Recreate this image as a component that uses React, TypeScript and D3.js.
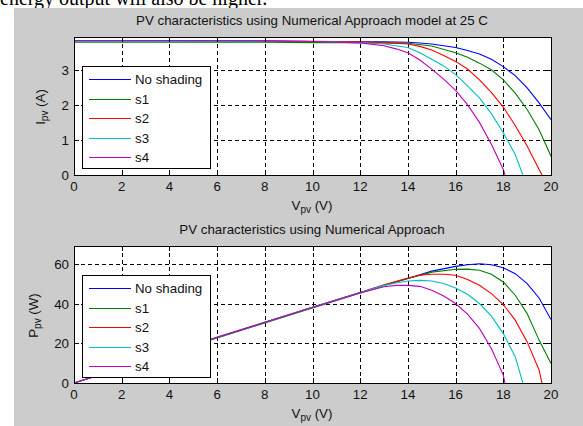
import React from 'react';
import * as d3 from 'd3';

// series shown in both panels
const seriesNames = ['No shading', 's1', 's2', 's3', 's4'];
const seriesColors = ['#0000ff', '#008000', '#ff0000', '#00bfbf', '#bf00bf'];

// I-V curves, [voltage V, current A]
const ivNoShading: [number, number][] = [
  [0, 3.85], [4, 3.85], [8, 3.84], [10, 3.83], [12, 3.82], [13, 3.82], [14, 3.81], [14.5, 3.79],
  [15, 3.76], [16, 3.66], [16.5, 3.57], [17, 3.47], [17.5, 3.32], [18, 3.11], [18.5, 2.85],
  [19, 2.5], [19.5, 2.07], [20, 1.59],
];
const ivS1: [number, number][] = [
  [0, 3.81], [4, 3.81], [8, 3.81], [10, 3.8], [12, 3.8], [13, 3.79], [14, 3.78], [15, 3.7],
  [16, 3.51], [16.5, 3.38], [17, 3.21], [17.5, 3.02], [18, 2.73], [18.5, 2.35], [19, 1.88],
  [19.5, 1.3], [20, 0.54],
];
const ivS2: [number, number][] = [
  [0, 3.86], [4, 3.86], [8, 3.85], [10, 3.84], [12, 3.82], [13, 3.8], [14, 3.76], [14.5, 3.69],
  [15, 3.59], [15.5, 3.43], [16, 3.26], [16.5, 3.04], [17, 2.73], [17.5, 2.37], [18, 1.95],
  [18.5, 1.42], [19, 0.83], [19.5, 0.16], [19.62, 0],
];
const ivS3: [number, number][] = [
  [0, 3.85], [4, 3.85], [8, 3.84], [10, 3.83], [12, 3.8], [13, 3.76], [14, 3.66], [14.5, 3.51],
  [15, 3.32], [15.5, 3.13], [16, 2.88], [16.5, 2.56], [17, 2.21], [17.5, 1.76], [18, 1.21],
  [18.5, 0.59], [18.82, 0],
];
const ivS4: [number, number][] = [
  [0, 3.86], [4, 3.86], [8, 3.85], [10, 3.83], [12, 3.79], [13, 3.71], [13.5, 3.62], [14, 3.51],
  [14.5, 3.3], [15, 3.04], [15.5, 2.75], [16, 2.43], [16.5, 2.02], [17, 1.51], [17.5, 0.88],
  [18, 0.16], [18.07, 0],
];

// P-V curves, [voltage V, power W]
const pvNoShading: [number, number][] = [
  [0, 0], [2, 7.7], [4, 15.4], [6, 23.0], [8, 30.6], [10, 38.3], [12, 45.8], [13, 49.4],
  [14, 52.9], [15, 56.6], [16, 59.0], [16.5, 59.8], [17, 60.3], [17.5, 59.8], [18, 58.3],
  [18.5, 55.3], [19, 50.3], [19.5, 43.0], [20, 32.1],
];
const pvS1: [number, number][] = [
  [0, 0], [2, 7.6], [4, 15.2], [6, 22.8], [8, 30.4], [10, 38.0], [12, 45.6], [13, 49.3],
  [14, 52.9], [15, 56.1], [16, 57.5], [16.5, 57.6], [17, 57.0], [17.5, 55.0], [18, 51.1],
  [18.5, 44.4], [19, 35.1], [19.5, 21.7], [20, 9.9],
];
const pvS2: [number, number][] = [
  [0, 0], [2, 7.7], [4, 15.4], [6, 23.1], [8, 30.7], [10, 38.3], [12, 45.8], [13, 49.7],
  [14, 53.1], [14.5, 54.5], [15, 55.0], [15.5, 55.0], [16, 54.5], [16.5, 52.4], [17, 49.4],
  [17.5, 45.2], [18, 39.7], [18.5, 31.8], [19, 20.8], [19.5, 6.6], [19.62, 0],
];
const pvS3: [number, number][] = [
  [0, 0], [2, 7.7], [4, 15.4], [6, 23.1], [8, 30.7], [10, 38.3], [12, 45.6], [13, 49.4],
  [13.5, 50.6], [14, 51.6], [14.5, 51.9], [15, 51.6], [15.5, 50.3], [16, 48.1], [16.5, 44.9],
  [17, 40.2], [17.5, 33.8], [18, 25.0], [18.5, 13.3], [18.82, 0],
];
const pvS4: [number, number][] = [
  [0, 0], [2, 7.7], [4, 15.4], [6, 23.1], [8, 30.7], [10, 38.2], [12, 45.5], [13, 48.7],
  [13.5, 49.4], [14, 49.4], [14.5, 48.9], [15, 46.9], [15.5, 44.0], [16, 40.2], [16.5, 34.8],
  [17, 27.6], [17.5, 17.5], [18, 4.0], [18.07, 0],
];

const xTicks = [0, 2, 4, 6, 8, 10, 12, 14, 16, 18, 20];
const iTicks = [0, 1, 2, 3];
const pTicks = [0, 20, 40, 60];

const FONT = 'Liberation Sans, Arial, Helvetica, sans-serif';
const W = 583;
const H = 426;

type PanelProps = {
  id: string;
  top: number;
  bottom: number;
  yMax: number;
  yTicks: number[];
  series: [number, number][][];
  title: string;
  yMain: string;
  yUnit: string;
  yLabelX: number;
};

const Panel = ({ id, top, bottom, yMax, yTicks, series, title, yMain, yUnit, yLabelX }: PanelProps) => {
  const left = 74;
  const right = 551;
  const x = d3.scaleLinear().domain([0, 20]).range([left, right]);
  const y = d3.scaleLinear().domain([0, yMax]).range([bottom, top]);
  const line = d3.line<[number, number]>()
    .x(d => x(d[0]))
    .y(d => y(d[1]));
  const snap = (v: number) => Math.round(v) + 0.5;
  const tickLen = 5;

  // legend
  const lgLeft = 82;
  const lgTop = top + 29;
  const rowH = 19.6;

  return (
    <g>
      <defs>
        <clipPath id={id}>
          <rect x={left} y={top} width={right - left} height={bottom - top} />
        </clipPath>
      </defs>
      <rect x={left} y={top} width={right - left} height={bottom - top} fill="#fff" />

      {/* grid */}
      {xTicks.filter(t => t > 0 && t < 20).map(t => (
        <line key={'gx' + t} x1={snap(x(t))} x2={snap(x(t))} y1={top} y2={bottom}
          stroke="#000" strokeWidth={1} strokeDasharray="4,3" />
      ))}
      {yTicks.filter(t => t > 0).map(t => (
        <line key={'gy' + t} x1={left} x2={right} y1={snap(y(t))} y2={snap(y(t))}
          stroke="#000" strokeWidth={1} strokeDasharray="4,3" />
      ))}

      {/* curves */}
      <g clipPath={`url(#${id})`}>
        {series.map((s, i) => (
          <path key={i} d={line(s) || ''} fill="none" stroke={seriesColors[i]} strokeWidth={1.1} />
        ))}
      </g>

      {/* ticks */}
      {xTicks.map(t => (
        <g key={'tx' + t}>
          <line x1={snap(x(t))} x2={snap(x(t))} y1={bottom} y2={bottom - tickLen} stroke="#000" />
          <line x1={snap(x(t))} x2={snap(x(t))} y1={top} y2={top + tickLen} stroke="#000" />
          <text x={x(t)} y={bottom + 16} textAnchor="middle" fontSize={13.3} fontFamily={FONT} fill="#111">{t}</text>
        </g>
      ))}
      {yTicks.map(t => (
        <g key={'ty' + t}>
          <line x1={left} x2={left + tickLen} y1={snap(y(t))} y2={snap(y(t))} stroke="#000" />
          <line x1={right} x2={right - tickLen} y1={snap(y(t))} y2={snap(y(t))} stroke="#000" />
          <text x={69} y={y(t) + 5} textAnchor="end" fontSize={13.3} fontFamily={FONT} fill="#111">{t}</text>
        </g>
      ))}

      <rect x={left + 0.5} y={top + 0.5} width={right - left} height={bottom - top} fill="none" stroke="#000" />

      {/* legend */}
      <rect x={lgLeft + 0.5} y={lgTop + 0.5} width={128} height={102} fill="#fff" stroke="#000" />
      {seriesNames.map((n, i) => {
        const ry = lgTop + 13 + i * rowH;
        return (
          <g key={n}>
            <line x1={89} x2={131} y1={Math.round(ry) + 0.5} y2={Math.round(ry) + 0.5} stroke={seriesColors[i]} />
            <text x={135} y={ry + 5} fontSize={13.3} fontFamily={FONT} fill="#111">{n}</text>
          </g>
        );
      })}

      {/* title */}
      <text x={312} y={top - 11.7} textAnchor="middle" fontSize={13.3} fontFamily={FONT} fill="#111">{title}</text>

      {/* x label */}
      <text x={312} y={bottom + 34.5} textAnchor="middle" fontSize={13.3} fontFamily={FONT} fill="#111">
        V<tspan fontSize={10} dy={3}>pv</tspan><tspan dy={-3}> (V)</tspan>
      </text>

      {/* y label */}
      <text transform={`translate(${yLabelX},${(top + bottom) / 2 + 1}) rotate(-90)`} textAnchor="middle"
        fontSize={13.3} fontFamily={FONT} fill="#111">
        {yMain}<tspan fontSize={10} dy={3}>pv</tspan><tspan dy={-3}>{' ' + yUnit}</tspan>
      </text>
    </g>
  );
};

const App = () => {
  return (
    <svg width={W} height={H} style={{ position: 'absolute', left: 0, top: 0, display: 'block' }}>
      <rect x={0} y={0} width={W} height={H} fill="#fff" />
      <text x={0} y={5} fontSize={20} fontFamily="Liberation Serif, Times New Roman, serif" fill="#000">
        energy output will also be higher.
      </text>
      <rect x={14} y={8} width={W - 14} height={H - 8} fill="#cccccc" />
      <Panel id="clipI" top={37} bottom={175} yMax={3.96} yTicks={iTicks}
        series={[ivNoShading, ivS1, ivS2, ivS3, ivS4]}
        title="PV characteristics using Numerical Approach model at 25 C"
        yMain="I" yUnit="(A)" yLabelX={45} />
      <Panel id="clipP" top={246} bottom={383} yMax={69.3} yTicks={pTicks}
        series={[pvNoShading, pvS1, pvS2, pvS3, pvS4]}
        title="PV characteristics using Numerical Approach"
        yMain="P" yUnit="(W)" yLabelX={37.5} />
    </svg>
  );
};

export default App;
